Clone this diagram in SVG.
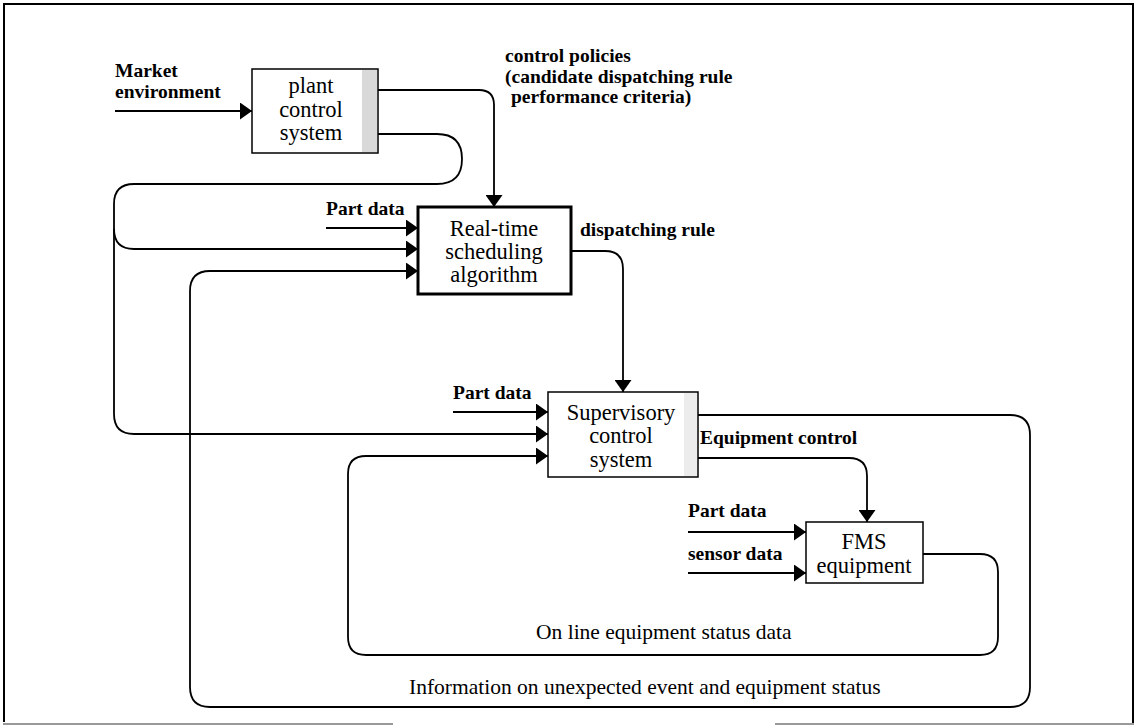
<svg xmlns="http://www.w3.org/2000/svg" width="1141" height="727" viewBox="0 0 1141 727">
<style>
.box{fill:#fff;stroke:#000;stroke-width:1.5}
.bt{font-family:"Liberation Serif","Times New Roman",serif;font-size:22.5px;fill:#000;text-anchor:middle}
.lb{font-family:"Liberation Serif","Times New Roman",serif;font-size:19.5px;font-weight:bold;fill:#000}
.ll{font-family:"Liberation Serif","Times New Roman",serif;font-size:21.5px;fill:#000}
.ca{fill:none;stroke:#000;stroke-width:1.8;marker-end:url(#ah)}
</style>
<defs>
<marker id="ah" markerUnits="userSpaceOnUse" markerWidth="12" markerHeight="17" refX="12" refY="8.5" orient="auto">
<path d="M0,0 L12,8.5 L0,17 Z" fill="#000"/>
</marker>
</defs>
<rect width="1141" height="727" fill="#fff"/>
<g id="frame">
<path d="M4,722 V4 H1133 V723" fill="none" stroke="#000" stroke-width="2"/>
<path d="M3,724 H393 M775,724 H1134" stroke="#999" stroke-width="2"/>
</g>
<g id="connectors">
<path class="ca" d="M115,111 H252"/>
<path class="ca" d="M378,90 H479 Q494,90 494,105 V207"/>
<path class="ca" d="M378,134 H437 Q462,134 462,159 Q462,184 437,184 H134 Q114,184 114,204 V414 Q114,434 134,434 H548"/>
<path class="ca" d="M114,229 Q114,249 134,249 H418"/>
<path class="ca" d="M326,228 H418"/>
<path class="ca" d="M698,415 H1010 Q1030,415 1030,435 V687 Q1030,707 1010,707 H210 Q190,707 190,687 V291 Q190,271 210,271 H418"/>
<path class="ca" d="M571,251 H605 Q623,251 623,269 V392"/>
<path class="ca" d="M453,412 H548"/>
<path class="ca" d="M698,458 H849 Q867,458 867,476 V522"/>
<path class="ca" d="M688,532 H806"/>
<path class="ca" d="M688,573 H806"/>
<path class="ca" d="M923,554 H980 Q998,554 998,572 V637 Q998,655 980,655 H366 Q348,655 348,637 V474 Q348,456 366,456 H548"/>
</g>
<g id="labels">
<text class="lb" x="115" y="77">Market</text>
<text class="lb" x="115" y="98">environment</text>
<text class="lb" x="505" y="62">control policies</text>
<text class="lb" x="505" y="83">(candidate dispatching rule</text>
<text class="lb" x="511" y="103">performance criteria)</text>
<text class="lb" x="326" y="215">Part data</text>
<text class="lb" x="580" y="236">dispatching rule</text>
<text class="lb" x="453" y="399">Part data</text>
<text class="lb" x="700" y="444">Equipment control</text>
<text class="lb" x="688" y="517">Part data</text>
<text class="lb" x="688" y="560">sensor data</text>
<text class="ll" x="536" y="639">On line equipment status data</text>
<text class="ll" x="409" y="694">Information on unexpected event and equipment status</text>
</g>
<g id="plant">
<rect class="box" x="252" y="69" width="126" height="84"/>
<rect x="362" y="70" width="15" height="82" fill="#d9d9d9"/>
<text class="bt" x="311" y="93">plant</text>
<text class="bt" x="311" y="116.5">control</text>
<text class="bt" x="311" y="140">system</text>
</g>
<g id="realtime">
<rect x="418" y="207" width="153" height="87" fill="#fff" stroke="#000" stroke-width="3"/>
<text class="bt" x="494" y="235.5">Real-time</text>
<text class="bt" x="494" y="258.5">scheduling</text>
<text class="bt" x="494" y="281.5">algorithm</text>
</g>
<g id="supervisory">
<rect class="box" x="548" y="392" width="150" height="85" stroke-width="1.2"/>
<rect x="684" y="393" width="13" height="83" fill="#ececec"/>
<text class="bt" x="621" y="419.5">Supervisory</text>
<text class="bt" x="621" y="443">control</text>
<text class="bt" x="621" y="466.5">system</text>
</g>
<g id="fms">
<rect class="box" x="806" y="522" width="117" height="61"/>
<text class="bt" x="864" y="549">FMS</text>
<text class="bt" x="864" y="573">equipment</text>
</g>
</svg>
